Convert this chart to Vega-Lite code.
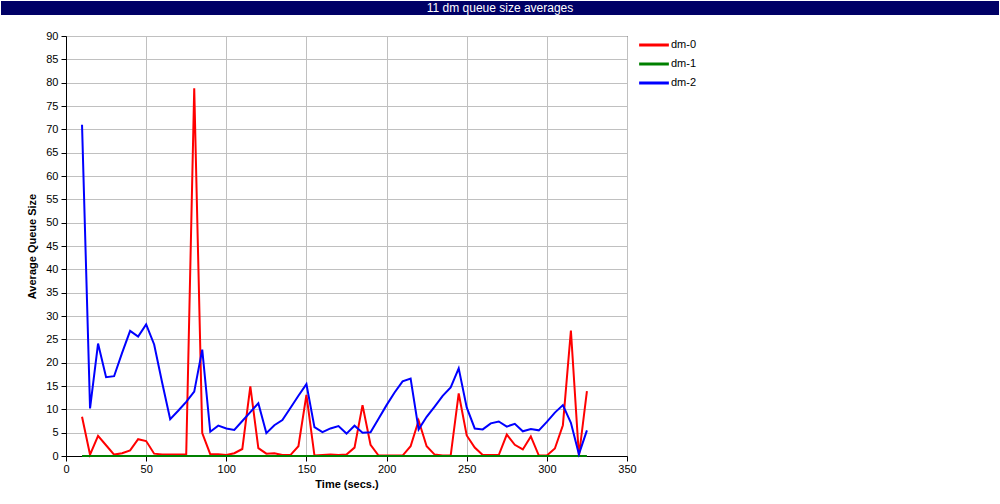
{
  "$schema": "https://vega.github.io/schema/vega-lite/v6.json",
  "padding": {"left": 1, "top": 1, "right": 0, "bottom": 0},
  "background": "white",
  "spacing": 14,
  "config": {"font": "Liberation Sans"},
  "datasets": {
    "q": [
      {"t": 10, "dm-0": 8.4, "dm-1": 0, "dm-2": 71},
      {"t": 15, "dm-0": 0.3, "dm-1": 0, "dm-2": 10.2},
      {"t": 20, "dm-0": 4.3, "dm-1": 0, "dm-2": 24.1},
      {"t": 25, "dm-0": 2.3, "dm-1": 0, "dm-2": 16.9},
      {"t": 30, "dm-0": 0.3, "dm-1": 0, "dm-2": 17.1},
      {"t": 35, "dm-0": 0.6, "dm-1": 0, "dm-2": 22.1},
      {"t": 40, "dm-0": 1.2, "dm-1": 0, "dm-2": 26.8},
      {"t": 45, "dm-0": 3.6, "dm-1": 0, "dm-2": 25.6},
      {"t": 50, "dm-0": 3.2, "dm-1": 0, "dm-2": 28.2},
      {"t": 55, "dm-0": 0.5, "dm-1": 0, "dm-2": 23.9},
      {"t": 60, "dm-0": 0.3, "dm-1": 0, "dm-2": 15.7},
      {"t": 65, "dm-0": 0.3, "dm-1": 0, "dm-2": 7.9},
      {"t": 70, "dm-0": 0.3, "dm-1": 0, "dm-2": 9.7},
      {"t": 75, "dm-0": 0.3, "dm-1": 0, "dm-2": 11.6},
      {"t": 80, "dm-0": 78.8, "dm-1": 0, "dm-2": 13.8},
      {"t": 85, "dm-0": 4.9, "dm-1": 0, "dm-2": 22.8},
      {"t": 90, "dm-0": 0.4, "dm-1": 0, "dm-2": 5.2},
      {"t": 95, "dm-0": 0.4, "dm-1": 0, "dm-2": 6.5},
      {"t": 100, "dm-0": 0.2, "dm-1": 0, "dm-2": 5.9},
      {"t": 105, "dm-0": 0.6, "dm-1": 0, "dm-2": 5.6},
      {"t": 110, "dm-0": 1.5, "dm-1": 0, "dm-2": 7.5},
      {"t": 115, "dm-0": 14.9, "dm-1": 0, "dm-2": 9.4},
      {"t": 120, "dm-0": 1.7, "dm-1": 0, "dm-2": 11.3},
      {"t": 125, "dm-0": 0.5, "dm-1": 0, "dm-2": 4.9},
      {"t": 130, "dm-0": 0.6, "dm-1": 0, "dm-2": 6.6},
      {"t": 135, "dm-0": 0.2, "dm-1": 0, "dm-2": 7.7},
      {"t": 140, "dm-0": 0.2, "dm-1": 0, "dm-2": 10.3},
      {"t": 145, "dm-0": 2.1, "dm-1": 0, "dm-2": 12.9},
      {"t": 150, "dm-0": 13.1, "dm-1": 0, "dm-2": 15.4},
      {"t": 155, "dm-0": 0.1, "dm-1": 0, "dm-2": 6.2},
      {"t": 160, "dm-0": 0.2, "dm-1": 0, "dm-2": 5.1},
      {"t": 165, "dm-0": 0.3, "dm-1": 0, "dm-2": 5.9},
      {"t": 170, "dm-0": 0.2, "dm-1": 0, "dm-2": 6.4},
      {"t": 175, "dm-0": 0.3, "dm-1": 0, "dm-2": 4.8},
      {"t": 180, "dm-0": 1.8, "dm-1": 0, "dm-2": 6.5},
      {"t": 185, "dm-0": 10.9, "dm-1": 0, "dm-2": 5.0},
      {"t": 190, "dm-0": 2.4, "dm-1": 0, "dm-2": 5.1},
      {"t": 195, "dm-0": 0.1, "dm-1": 0, "dm-2": 8.0},
      {"t": 200, "dm-0": 0.1, "dm-1": 0, "dm-2": 10.9},
      {"t": 205, "dm-0": 0.1, "dm-1": 0, "dm-2": 13.6},
      {"t": 210, "dm-0": 0.1, "dm-1": 0, "dm-2": 16.0},
      {"t": 215, "dm-0": 2.1, "dm-1": 0, "dm-2": 16.6},
      {"t": 220, "dm-0": 7.6, "dm-1": 0, "dm-2": 5.7},
      {"t": 225, "dm-0": 2.1, "dm-1": 0, "dm-2": 8.4},
      {"t": 230, "dm-0": 0.3, "dm-1": 0, "dm-2": 10.6},
      {"t": 235, "dm-0": 0.1, "dm-1": 0, "dm-2": 12.9},
      {"t": 240, "dm-0": 0.1, "dm-1": 0, "dm-2": 14.7},
      {"t": 245, "dm-0": 13.4, "dm-1": 0, "dm-2": 18.8},
      {"t": 250, "dm-0": 4.4, "dm-1": 0, "dm-2": 10.4},
      {"t": 255, "dm-0": 1.8, "dm-1": 0, "dm-2": 5.9},
      {"t": 260, "dm-0": 0.2, "dm-1": 0, "dm-2": 5.7},
      {"t": 265, "dm-0": 0.2, "dm-1": 0, "dm-2": 7.0},
      {"t": 270, "dm-0": 0.2, "dm-1": 0, "dm-2": 7.4},
      {"t": 275, "dm-0": 4.6, "dm-1": 0, "dm-2": 6.3},
      {"t": 280, "dm-0": 2.4, "dm-1": 0, "dm-2": 6.9},
      {"t": 285, "dm-0": 1.4, "dm-1": 0, "dm-2": 5.3},
      {"t": 290, "dm-0": 4.2, "dm-1": 0, "dm-2": 5.8},
      {"t": 295, "dm-0": 0.1, "dm-1": 0, "dm-2": 5.5},
      {"t": 300, "dm-0": 0.1, "dm-1": 0, "dm-2": 7.3},
      {"t": 305, "dm-0": 1.6, "dm-1": 0, "dm-2": 9.3},
      {"t": 310, "dm-0": 6.6, "dm-1": 0, "dm-2": 10.9},
      {"t": 315, "dm-0": 26.9, "dm-1": 0, "dm-2": 7.1},
      {"t": 320, "dm-0": 0, "dm-1": 0, "dm-2": 0.4},
      {"t": 325, "dm-0": 13.9, "dm-1": 0, "dm-2": 5.5}
    ]
  },
  "vconcat": [
    {
      "width": 998,
      "height": 14,
      "view": {"fill": "#000066", "stroke": null},
      "data": {"values": [{"label": "11 dm queue size averages"}]},
      "mark": {"type": "text", "color": "white", "fontSize": 12, "font": "Liberation Sans", "align": "center", "baseline": "middle"},
      "encoding": {"text": {"field": "label"}}
    },
    {
      "spacing": 24,
      "hconcat": [
        {
          "width": 1,
          "height": 1,
          "view": {"stroke": null},
          "data": {"values": [{"label": ""}]},
          "mark": {"type": "text"},
          "encoding": {"text": {"field": "label"}}
        },
        {
          "width": 561,
          "height": 420,
          "view": {"stroke": "black", "strokeWidth": 1},
          "data": {"name": "q"},
          "transform": [{"fold": ["dm-0", "dm-1", "dm-2"], "as": ["series", "value"]}],
          "mark": {"type": "line", "strokeWidth": 2},
          "encoding": {
            "x": {
              "field": "t", "type": "quantitative",
              "scale": {"domain": [0, 350], "nice": false},
              "axis": {
                "values": [0, 50, 100, 150, 200, 250, 300, 350],
                "title": "Time (secs.)",
                "titleFontSize": 11, "titleFontWeight": "bold", "titleColor": "black", "titlePadding": 4,
                "labelFontSize": 11, "labelColor": "black", "labelPadding": 2, "labelFlush": false, "labelOverlap": false,
                "tickSize": 5, "tickColor": "black", "domainColor": "black",
                "gridColor": "#c0c0c0", "gridOpacity": 1
              }
            },
            "y": {
              "field": "value", "type": "quantitative",
              "scale": {"domain": [0, 90], "nice": false},
              "axis": {
                "values": [0, 5, 10, 15, 20, 25, 30, 35, 40, 45, 50, 55, 60, 65, 70, 75, 80, 85, 90],
                "title": "Average Queue Size",
                "titleFontSize": 11, "titleFontWeight": "bold", "titleColor": "black", "titlePadding": 8,
                "labelFontSize": 11, "labelColor": "black", "labelPadding": 3, "labelFlush": false, "labelOverlap": false,
                "tickSize": 5, "tickColor": "black", "domainColor": "black",
                "gridColor": "#c0c0c0", "gridOpacity": 1
              }
            },
            "color": {
              "field": "series", "type": "nominal",
              "scale": {"domain": ["dm-0", "dm-1", "dm-2"], "range": ["#ff0000", "#008000", "#0000ff"]},
              "legend": {
                "orient": "none", "legendX": 643, "legendY": 34, "title": null, "padding": 0,
                "symbolType": "M-1.75,0H1.75", "symbolSize": 289, "symbolStrokeWidth": 3,
                "labelFontSize": 11, "labelColor": "black", "labelOffset": 7, "rowPadding": 3
              }
            }
          }
        }
      ]
    }
  ]
}
